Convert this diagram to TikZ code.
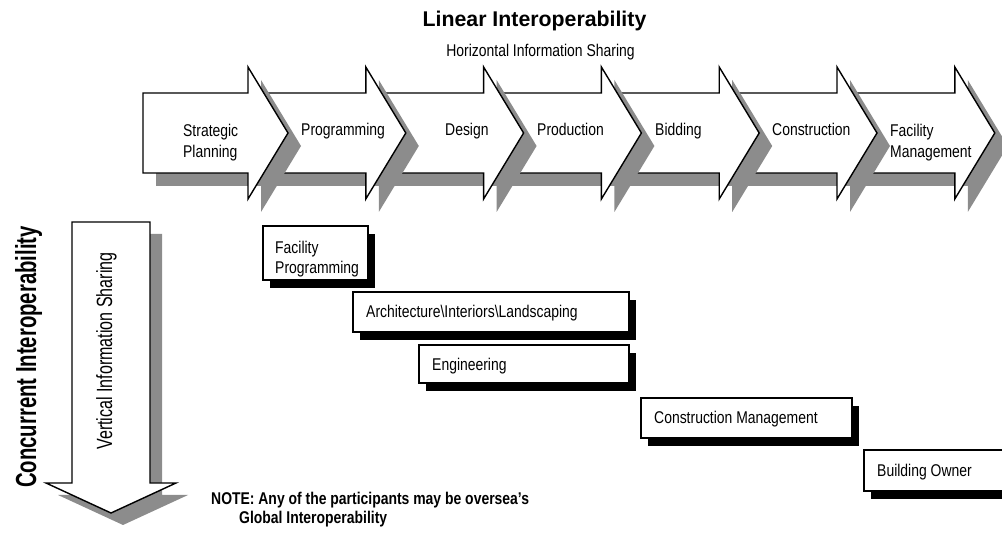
\documentclass[tikz,border=0pt]{standalone}
\usepackage{fontspec}
\setmainfont{Liberation Sans}
\newfontfamily\narrowfont[FakeStretch=0.82]{Liberation Sans}
\newfontfamily\tallfont[FakeStretch=0.73]{Liberation Sans}
\newfontfamily\tallboldfont[FakeStretch=0.70]{Liberation Sans Bold}
\definecolor{shade}{RGB}{140,140,140}
\tikzset{
  outline/.style={draw=black, line width=1.4pt, fill=white, line join=miter},
  shadowfill/.style={fill=shade, draw=none},
  boxshadow/.style={fill=black, draw=none},
  lbl/.style={font=\narrowfont\fontsize{17}{21}\selectfont, inner sep=0pt, align=left},
  boxlbl/.style={font=\narrowfont\fontsize{17}{20}\selectfont, inner sep=0pt, align=left},
  notelbl/.style={font=\narrowfont\bfseries\fontsize{17}{19}\selectfont, inner sep=0pt, align=left},
}
\begin{document}
\begin{tikzpicture}[x=1pt,y=-1pt]
\useasboundingbox (0,0) rectangle (1002,534);
\clip (0,0) rectangle (1002,534);

% horizontal process arrows, drawn right to left
\foreach \i in {6,5,...,0}{
  \pgfmathsetmacro\b{248+117.8*\i}
  \pgfmathsetmacro\l{\i==0 ? 143 : \b-114.8}
  \fill[shadowfill, shift={(13,13)}] (\l,93) -- (\b,93) -- (\b,67) -- (\b+40,133) -- (\b,199) -- (\b,173) -- (\l,173) -- cycle;
  \draw[outline] (\l,93) -- (\b,93) -- (\b,67) -- (\b+40,133) -- (\b,199) -- (\b,173) -- (\l,173) -- cycle;
}

% titles
\node[font=\bfseries\fontsize{21.3}{25}\selectfont, inner sep=0pt, anchor=base] (title) at (534.5,27) {Linear Interoperability};
\node[lbl, anchor=base] (hsub) at (540.5,57) {Horizontal Information Sharing};

% arrow labels
\node[lbl, anchor=north west] (sp) at (183,123.5) {Strategic\\Planning};
\node[lbl, anchor=base west] (pr) at (301,136) {Programming};
\node[lbl, anchor=base west] (de) at (445,136) {Design};
\node[lbl, anchor=base west] (pd) at (537,136) {Production};
\node[lbl, anchor=base west] (bi) at (655,136) {Bidding};
\node[lbl, anchor=base west] (co) at (772,136) {Construction};
\node[lbl, anchor=north west] (fm) at (890,123.5) {Facility\\Management};

% vertical arrow
\fill[shadowfill, shift={(12,12)}] (72,222) -- (150,222) -- (150,483) -- (176,483) -- (111,513) -- (46,483) -- (72,483) -- cycle;
\draw[outline] (72,222) -- (150,222) -- (150,483) -- (176,483) -- (111,513) -- (46,483) -- (72,483) -- cycle;
\node[font=\tallfont\fontsize{22}{26}\selectfont, inner sep=0pt, rotate=90, anchor=base] (vsub) at (112,351) {Vertical Information Sharing};
\node[font=\tallboldfont\fontsize{29}{34}\selectfont, inner sep=0pt, rotate=90, anchor=base] (ctitle) at (36,357) {Concurrent Interoperability};

% participant boxes
\fill[boxshadow] (270,234) rectangle (375,288);
\draw[outline] (263,226) rectangle (368,280);
\node[boxlbl, anchor=north west] (fp) at (275,241) {Facility\\Programming};

\fill[boxshadow] (360,300) rectangle (636,340);
\draw[outline] (353,292) rectangle (629,332);
\node[boxlbl, anchor=base west] (ail) at (366,318) {Architecture\textbackslash Interiors\textbackslash Landscaping};

\fill[boxshadow] (426,353) rectangle (636,391);
\draw[outline] (419,345) rectangle (629,383);
\node[boxlbl, anchor=base west] (eng) at (432,371) {Engineering};

\fill[boxshadow] (648,406) rectangle (859,446);
\draw[outline] (641,398) rectangle (852,438);
\node[boxlbl, anchor=base west] (cm) at (654,424) {Construction Management};

\fill[boxshadow] (871,458) rectangle (1020,499);
\draw[outline] (864,450) rectangle (1012,491);
\node[boxlbl, anchor=base west] (bo) at (877,477) {Building Owner};

% note
\node[notelbl, anchor=north west] (note) at (211,491.5) {NOTE: Any of the participants may be oversea’s\\\hspace*{28pt}Global Interoperability};
\end{tikzpicture}
\end{document}
